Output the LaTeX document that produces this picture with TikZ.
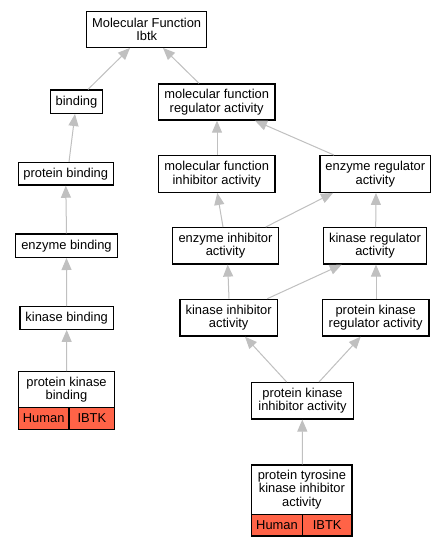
\documentclass[tikz,border=0pt]{standalone}
\usepackage{fontspec}
\setmainfont{Liberation Sans}
\usetikzlibrary{arrows.meta,calc}
\definecolor{tomato}{HTML}{FF6347}
\definecolor{edgegray}{HTML}{C0C0C0}
\newcommand{\gofont}{\fontsize{12.9}{13.6}\selectfont}
\tikzset{
  box/.style={draw=black, line width=1.3pt, fill=white, inner sep=0pt, align=center, font=\gofont},
  cell/.style={box, fill=tomato},
  edge/.style={draw=edgegray, line width=1pt, -{Triangle[length=12pt,width=10pt]}},
}
\begin{document}
\begin{tikzpicture}[x=1pt,y=-1pt]
\fill[white] (0,0) rectangle (445,547);
\useasboundingbox (0,0) rectangle (445,547);

\node[box, minimum width=120, minimum height=35.6] (mf) at (146.7,29.5) {Molecular Function\\Ibtk};
\node[box, minimum width=51.6, minimum height=23.3] (binding) at (76.5,101.7) {binding};
\node[box, minimum width=116.7, minimum height=36] (mfreg) at (216.7,102) {molecular function\\regulator activity};
\node[box, minimum width=95, minimum height=22.6] (pbind) at (65.8,173.8) {protein binding};
\node[box, minimum width=116.7, minimum height=36.6] (mfinh) at (216.7,174) {molecular function\\inhibitor activity};
\node[box, minimum width=110.7, minimum height=36.6] (enzreg) at (375.3,174) {enzyme regulator\\activity};
\node[box, minimum width=101.6, minimum height=23.3] (enzbind) at (66.5,245.7) {enzyme binding};
\node[box, minimum width=105.6, minimum height=36.3] (enzinh) at (225.5,245.8) {enzyme inhibitor\\activity};
\node[box, minimum width=103.4, minimum height=36.3] (kinreg) at (375,245.8) {kinase regulator\\activity};
\node[box, minimum width=93.3, minimum height=22.6] (kinbind) at (66.7,318) {kinase binding};
\node[box, minimum width=97.3, minimum height=36.7] (kininh) at (228.7,317.7) {kinase inhibitor\\activity};
\node[box, minimum width=106.7, minimum height=36.7] (pkreg) at (375.7,317.7) {protein kinase\\regulator activity};
\node[box, minimum width=96.4, minimum height=36] (pkb) at (66.5,389.7) {protein kinase\\binding};
\node[cell, minimum width=50.7, minimum height=21.6] (pkbh) at (43.65,418.5) {Human};
\node[cell, minimum width=45.7, minimum height=21.6] (pkbi) at (91.85,418.5) {IBTK};
\node[box, minimum width=101.6, minimum height=36.3] (pkinh) at (302.5,400.8) {protein kinase\\inhibitor activity};
\node[box, minimum width=100.3, minimum height=49.3] (ptk) at (301.85,489.65) {protein tyrosine\\kinase inhibitor\\activity};
\node[cell, minimum width=50.6, minimum height=21.7] (ptkh) at (277,525.15) {Human};
\node[cell, minimum width=49.7, minimum height=21.7] (ptki) at (327.15,525.15) {IBTK};

\draw[edge] ([xshift=11.5pt]binding.north) -- ([xshift=-16.7pt]mf.south);
\draw[edge] ([xshift=-17.7pt]mfreg.north) -- ([xshift=16.3pt]mf.south);
\draw[edge] ([xshift=3.2pt]pbind.north) -- ([xshift=-1.5pt]binding.south);
\draw[edge] ([xshift=0.3pt]mfinh.north) -- ([xshift=0.3pt]mfreg.south);
\draw[edge] ([xshift=-41.3pt]enzreg.north) -- ([xshift=38.3pt]mfreg.south);
\draw[edge] (enzbind.north) -- (pbind.south);
\draw[edge] ([xshift=-2.5pt]enzinh.north) -- ([xshift=0.6pt]mfinh.south);
\draw[edge] ([xshift=40.2pt]enzinh.north) -- ([xshift=-42.3pt]enzreg.south);
\draw[edge] ([xshift=0.7pt]kinreg.north) -- ([xshift=0.7pt]enzreg.south);
\draw[edge] (kinbind.north) -- (enzbind.south);
\draw[edge] ([xshift=0.3pt]kininh.north) -- ([xshift=2.2pt]enzinh.south);
\draw[edge] ([xshift=38.6pt]kininh.north) -- ([xshift=-33.3pt]kinreg.south);
\draw[edge] ([xshift=0.3pt]pkreg.north) -- ([xshift=1pt]kinreg.south);
\draw[edge] (pkb.north) -- (kinbind.south);
\draw[edge] ([xshift=-15.8pt]pkinh.north) -- ([xshift=16.3pt]kininh.south);
\draw[edge] ([xshift=16.5pt]pkinh.north) -- ([xshift=-15pt]pkreg.south);
\draw[edge] ([xshift=0.5pt]ptk.north) -- ([xshift=-0.2pt]pkinh.south);
\end{tikzpicture}
\end{document}
